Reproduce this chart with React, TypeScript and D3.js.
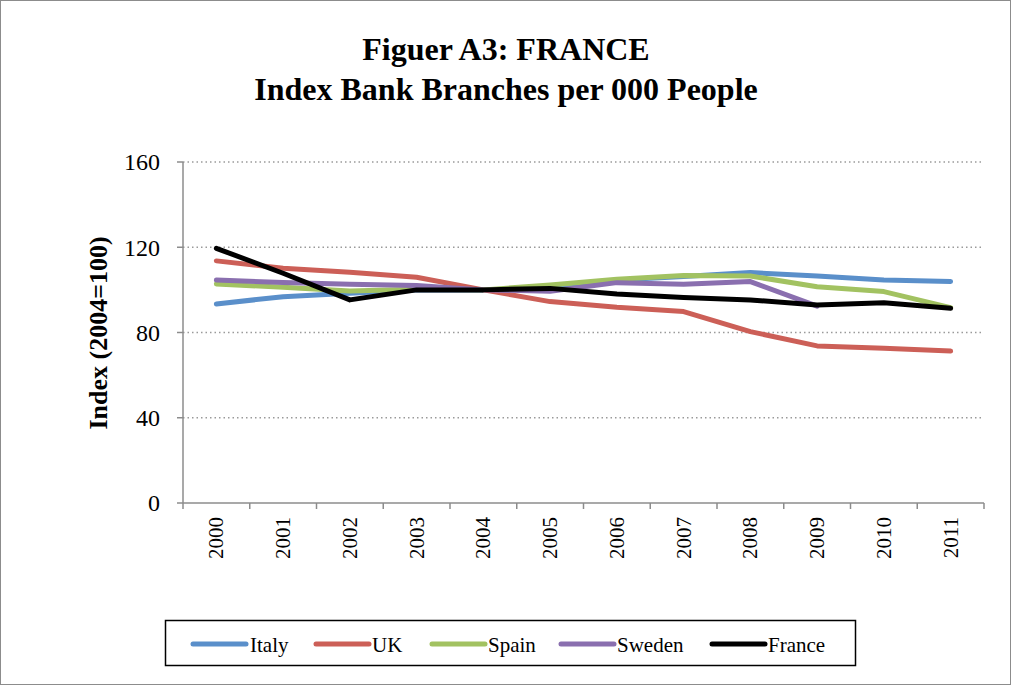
import React from "react";
import * as d3 from "d3";

const years = ["2000","2001","2002","2003","2004","2005","2006","2007","2008","2009","2010","2011"];
const italy = [93.4, 96.8, 98.4, 100, 100, 101, 104.6, 106.3, 108.1, 106.5, 104.6, 103.9];
const uk = [113.6, 110.1, 108.3, 105.9, 100, 94.5, 91.8, 89.8, 80.4, 73.7, 72.6, 71.3];
const spain = [102.8, 101.2, 99.5, 100.3, 100, 102.3, 105, 106.7, 106.5, 101.5, 99.2, 91.7];
const sweden: (number | null)[] = [104.6, 103.5, 102.6, 102, 100, 99.4, 103.4, 102.6, 103.9, 92.4, null, null];
const france = [119.5, 107.8, 95.3, 100, 100, 100.7, 98.1, 96.4, 95.3, 92.9, 94, 91.4];
const yTicks = [0, 40, 80, 120, 160];

const seriesNames = ["Italy", "UK", "Spain", "Sweden", "France"];
const seriesColors = ["#5A8FCA", "#CC5F57", "#A2C261", "#8A6FAF", "#000000"];
const seriesData = [italy, uk, spain, sweden, france];

export default function App() {
  const W = 1013, H = 686;
  const left = 183, right = 984, top = 162, bottom = 503;
  const x = d3.scaleBand<string>().domain(years).range([left, right]);
  const y = d3.scaleLinear().domain([0, 160]).range([bottom, top]);
  const cx = (yr: string) => (x(yr) as number) + x.bandwidth() / 2;
  const line = d3
    .line<number | null>()
    .defined((d) => d != null)
    .x((_, i) => cx(years[i]))
    .y((d) => y(d as number));
  const font = "'Liberation Serif', 'Times New Roman', serif";
  const axisColor = "#8c8c8c";

  const legendItems = [
    { x: 193, tx: 250 },
    { x: 316, tx: 372 },
    { x: 432, tx: 488 },
    { x: 561, tx: 617 },
    { x: 712, tx: 768 },
  ];

  return (
    <svg
      width={W}
      height={H}
      style={{ position: "absolute", left: 0, top: 0 }}
      fontFamily={font}
    >
      <rect x={0} y={0} width={W} height={H} fill="#fff" />
      <rect x={0.5} y={0.5} width={1010} height={684} fill="none" stroke="#8c8c8c" strokeWidth={1} />
      <text x={506} y={60} textAnchor="middle" fontSize={32} fontWeight="bold">Figuer A3: FRANCE</text>
      <text x={506} y={100} textAnchor="middle" fontSize={32} fontWeight="bold">Index Bank Branches per 000 People</text>

      {yTicks.filter((t) => t > 0).map((t) => (
        <line key={"g" + t} x1={left} x2={right} y1={y(t)} y2={y(t)} stroke="#9a9a9a" strokeWidth={1.5} strokeDasharray="1.5,3" />
      ))}
      <line x1={left} x2={left} y1={top} y2={bottom} stroke={axisColor} strokeWidth={1.5} />
      <line x1={left} x2={right} y1={bottom} y2={bottom} stroke={axisColor} strokeWidth={1.5} />
      {yTicks.map((t) => (
        <g key={"y" + t}>
          <line x1={left - 6} x2={left} y1={y(t)} y2={y(t)} stroke={axisColor} strokeWidth={1.5} />
          <text x={160} y={y(t)} dy="0.35em" textAnchor="end" fontSize={24}>{t}</text>
        </g>
      ))}
      {[...years, "end"].map((yr, i) => {
        const px = i < years.length ? (x(yr) as number) : right;
        return <line key={"xt" + i} x1={px} x2={px} y1={bottom} y2={bottom + 6} stroke={axisColor} strokeWidth={1.5} />;
      })}
      {years.map((yr) => (
        <text
          key={"xl" + yr}
          transform={`translate(${cx(yr) + 7},${bottom + 14}) rotate(-90)`}
          textAnchor="end"
          fontSize={21}
        >
          {yr}
        </text>
      ))}
      <text transform={`translate(107,333) rotate(-90)`} textAnchor="middle" fontSize={26} fontWeight="bold">
        Index (2004=100)
      </text>

      {seriesData.map((d, i) => (
        <path
          key={seriesNames[i]}
          d={line(d as (number | null)[]) || ""}
          fill="none"
          stroke={seriesColors[i]}
          strokeWidth={5}
          strokeLinecap="round"
          strokeLinejoin="round"
        />
      ))}

      <rect x={165.5} y={620.5} width={690} height={45} fill="none" stroke="#000" strokeWidth={1.5} />
      {seriesNames.map((n, i) => (
        <g key={"lg" + n}>
          <line x1={legendItems[i].x} x2={legendItems[i].x + 53} y1={644} y2={644} stroke={seriesColors[i]} strokeWidth={5} strokeLinecap="round" />
          <text x={legendItems[i].tx} y={645} dy="0.35em" fontSize={21}>{n}</text>
        </g>
      ))}
    </svg>
  );
}
